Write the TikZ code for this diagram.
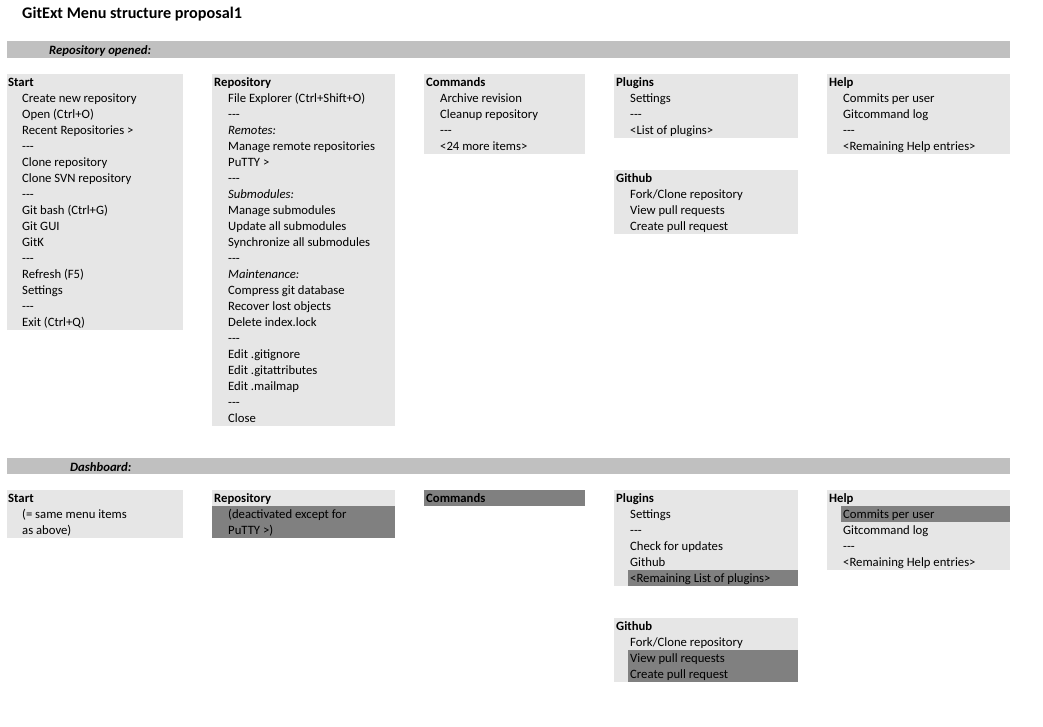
\documentclass[tikz,border=0pt]{standalone}
\usepackage{fontspec}
\setmainfont{Carlito}
\usetikzlibrary{positioning}
\definecolor{boxgray}{RGB}{230,230,230}
\definecolor{bandgray}{RGB}{192,192,192}
\definecolor{offgray}{RGB}{128,128,128}
\newcommand{\sepline}{\mbox{-}\mbox{-}\mbox{-}}

\begin{document}
\begin{tikzpicture}[x=1pt, y=-1pt,
    menubox/.style={fill=boxgray},
    offbox/.style={fill=offgray},
    band/.style={fill=bandgray},
    menuhead/.style={anchor=base west, inner sep=0pt, font=\fontsize{12.7}{15}\selectfont\bfseries},
    menuitem/.style={anchor=base west, inner sep=0pt, font=\fontsize{12.7}{15}\selectfont},
    bandlabel/.style={anchor=base west, inner sep=0pt, font=\fontsize{12.7}{15}\selectfont\bfseries\itshape}
]
\useasboundingbox (0,0) rectangle (1043,726);

% Title
\node[anchor=base west, inner sep=0pt, font=\fontsize{16.2}{19}\selectfont\bfseries] (title) at (22,18) {GitExt Menu structure proposal1};

% ---------- Repository opened ----------
\fill[band] (7,41) rectangle (1010,58);
\node[bandlabel] (opened) at (49,54) {Repository opened:};

% Start menu
\fill[menubox] (7,74) rectangle (183,330);
\node[menuhead] (start) at (8,86) {Start};
\foreach \txt [count=\i] in {Create new repository, Open (Ctrl+O), Recent Repositories >, \sepline,
    Clone repository, Clone SVN repository, \sepline, Git bash (Ctrl+G), Git GUI, GitK, \sepline,
    Refresh (F5), Settings, \sepline, Exit (Ctrl+Q)} {
    \node[menuitem] (start\i) at (22,86+16*\i) {\txt};
}

% Repository menu
\fill[menubox] (212,74) rectangle (395,426);
\node[menuhead] (repo) at (214,86) {Repository};
\foreach \txt [count=\i] in {File Explorer (Ctrl+Shift+O), \sepline, \textit{Remotes:},
    Manage remote repositories, PuTTY >, \sepline, \textit{Submodules:}, Manage submodules,
    Update all submodules, Synchronize all submodules, \sepline, \textit{Maintenance:},
    Compress git database, Recover lost objects, Delete index.lock, \sepline, Edit .gitignore,
    Edit .gitattributes, Edit .mailmap, \sepline, Close} {
    \node[menuitem] (repo\i) at (228,86+16*\i) {\txt};
}

% Commands menu
\fill[menubox] (424,74) rectangle (585,154);
\node[menuhead] (cmd) at (426,86) {Commands};
\foreach \txt [count=\i] in {Archive revision, Cleanup repository, \sepline, <24 more items>} {
    \node[menuitem] (cmd\i) at (440,86+16*\i) {\txt};
}

% Plugins menu
\fill[menubox] (614,74) rectangle (798,138);
\node[menuhead] (plug) at (616,86) {Plugins};
\foreach \txt [count=\i] in {Settings, \sepline, <List of plugins>} {
    \node[menuitem] (plug\i) at (630,86+16*\i) {\txt};
}

% Github menu
\fill[menubox] (614,170) rectangle (798,234);
\node[menuhead] (gh) at (616,182) {Github};
\foreach \txt [count=\i] in {Fork/Clone repository, View pull requests, Create pull request} {
    \node[menuitem] (gh\i) at (630,182+16*\i) {\txt};
}

% Help menu
\fill[menubox] (827,74) rectangle (1010,154);
\node[menuhead] (help) at (829,86) {Help};
\foreach \txt [count=\i] in {Commits per user, Gitcommand log, \sepline, <Remaining Help entries>} {
    \node[menuitem] (help\i) at (843,86+16*\i) {\txt};
}

% ---------- Dashboard ----------
\fill[band] (7,458) rectangle (1010,474);
\node[bandlabel] (dash) at (70,471) {Dashboard:};

% Start menu
\fill[menubox] (7,490) rectangle (183,538);
\node[menuhead] (dstart) at (8,502) {Start};
\foreach \txt [count=\i] in {{(= same menu items}, {as above)}} {
    \node[menuitem] (dstart\i) at (22,502+16*\i) {\txt};
}

% Repository menu (deactivated)
\fill[menubox] (212,490) rectangle (395,506);
\fill[offbox] (212,506) rectangle (395,538);
\node[menuhead] (drepo) at (214,502) {Repository};
\foreach \txt [count=\i] in {{(deactivated except for}, {PuTTY >)}} {
    \node[menuitem] (drepo\i) at (228,502+16*\i) {\txt};
}

% Commands menu (deactivated)
\fill[offbox] (424,490) rectangle (585,506);
\node[menuhead] (dcmd) at (426,502) {Commands};

% Plugins menu
\fill[menubox] (614,490) rectangle (798,586);
\fill[offbox] (628,570) rectangle (798,586);
\node[menuhead] (dplug) at (616,502) {Plugins};
\foreach \txt [count=\i] in {Settings, \sepline, Check for updates, Github, <Remaining List of plugins>} {
    \node[menuitem] (dplug\i) at (630,502+16*\i) {\txt};
}

% Help menu
\fill[menubox] (827,490) rectangle (1010,570);
\fill[offbox] (841,506) rectangle (1010,522);
\node[menuhead] (dhelp) at (829,502) {Help};
\foreach \txt [count=\i] in {Commits per user, Gitcommand log, \sepline, <Remaining Help entries>} {
    \node[menuitem] (dhelp\i) at (843,502+16*\i) {\txt};
}

% Github menu
\fill[menubox] (614,618) rectangle (798,682);
\fill[offbox] (628,650) rectangle (798,682);
\node[menuhead] (dgh) at (616,630) {Github};
\foreach \txt [count=\i] in {Fork/Clone repository, View pull requests, Create pull request} {
    \node[menuitem] (dgh\i) at (630,630+16*\i) {\txt};
}

\end{tikzpicture}
\end{document}
